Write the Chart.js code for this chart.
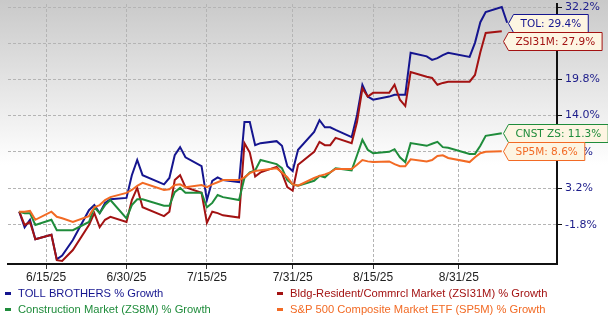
<!DOCTYPE html>
<html>
<head>
<meta charset="utf-8">
<script src="https://cdn.jsdelivr.net/npm/chart.js@4.4.1/dist/chart.umd.min.js"></script>
<style>
    html, body { margin: 0; padding: 0; background: #fff; }
    #wrap { width: 608px; height: 320px; background: linear-gradient(to bottom, #c9c9c9 0px, #ffffff 165px, #ffffff 320px); }
</style>
</head>
<body>
<div id="wrap"><canvas id="growthChart" width="608" height="320"></canvas></div>
<script>
// Trading days shown on the chart
const dates = [
    '2025-06-10','2025-06-11','2025-06-12','2025-06-13','2025-06-16','2025-06-17','2025-06-18','2025-06-20',
    '2025-06-23','2025-06-24','2025-06-25','2025-06-26','2025-06-27','2025-06-30',
    '2025-07-01','2025-07-02','2025-07-03','2025-07-07','2025-07-08','2025-07-09','2025-07-10','2025-07-11',
    '2025-07-14','2025-07-15','2025-07-16','2025-07-17','2025-07-18','2025-07-21','2025-07-22','2025-07-23',
    '2025-07-24','2025-07-25','2025-07-28','2025-07-29','2025-07-30','2025-07-31',
    '2025-08-01','2025-08-04','2025-08-05','2025-08-06','2025-08-07','2025-08-08','2025-08-11','2025-08-12',
    '2025-08-13','2025-08-14','2025-08-15','2025-08-18','2025-08-19','2025-08-20','2025-08-21','2025-08-22',
    '2025-08-25','2025-08-26','2025-08-27','2025-08-28','2025-08-29',
    '2025-09-02','2025-09-03','2025-09-04','2025-09-05','2025-09-08','2025-09-09'
];

// % growth per series
const tolGrowth = [
    0, -2.1, -1.1, -3.7, -3.1, -6.3, -5.8, -3.8, 0.2, 0.9, -0.2, 1.2, 1.7, 1.9,
    5.1, 7.3, 5.1, 3.8, 4.7, 8.0, 9.2, 7.7, 6.4, 1.6, 4.3, 4.8, 4.4, 4.1, 13.0, 13.0, 9.5, 9.8, 10.1, 9.4, 6.4, 5.7,
    8.8, 11.5, 13.3, 12.2, 12.2, 11.8, 10.7, 14.1, 18.9, 17.0, 16.5, 17.0, 17.3, 17.3, 17.3, 24.2, 23.6, 23.0, 23.3, 23.8, 24.2,
    23.5, 25.9, 29.5, 31.3, 32.2, 29.4
];
const zsi31mGrowth = [
    0, -1.8, -1.4, -3.7, -3.1, -6.4, -6.5, -5.1, -1.8, -0.2, -2.1, -1.1, -0.7, -1.4,
    1.6, 3.3, 0.6, -0.6, 0, 4.4, 5.1, 3.4, 2.6, -1.5, 0, -0.2, -0.5, -0.8, 9.8, 8.4, 4.9, 5.5, 6.3, 5.4, 3.4, 2.9,
    6.6, 8.5, 10.0, 9.5, 9.5, 10.6, 9.8, 13.0, 18.3, 17.0, 17.6, 17.6, 18.9, 16.5, 15.5, 21.0, 20.2, 20.0, 18.9, 19.2, 19.4,
    19.4, 20.5, 24.3, 27.6, 27.9
];
const zs8mGrowth = [
    0, -0.2, -0.2, -1.8, -1.1, -2.5, -2.5, -2.5, -1.4, 0.6, -0.2, 0.9, 1.6, -0.9,
    0.9, 1.7, 1.7, 0.8, 0.8, 2.7, 3.3, 2.6, 2.6, 0.6, 1.2, 2.3, 2.0, 1.6, 4.7, 5.5, 5.8, 7.3, 6.7, 6.1, 4.4, 3.8,
    3.6, 4.3, 5.0, 4.8, 5.5, 6.1, 5.8, 8.0, 10.3, 8.8, 8.3, 8.5, 8.9, 7.7, 7.0, 9.8, 9.4, 9.7, 10.0, 9.2, 9.1,
    8.2, 8.2, 9.4, 10.9, 11.3
];
const sp5mGrowth = [
    0, 0, 0.1, -1.1, 0, -0.7, -0.9, -1.4, -0.6, 0.6, 0.9, 1.6, 2.0, 2.6,
    3.0, 3.6, 4.0, 3.0, 3.1, 3.7, 3.8, 3.4, 3.7, 3.4, 3.8, 4.1, 4.4, 4.4, 4.8, 5.4, 5.7, 5.8, 6.1, 5.5, 4.8, 3.8,
    3.6, 4.7, 5.0, 5.2, 5.5, 6.0, 6.0, 6.6, 7.3, 7.1, 7.0, 7.1, 6.7, 6.4, 6.4, 7.4, 7.1, 7.3, 7.9, 8.0, 7.6,
    7.0, 7.7, 8.3, 8.5, 8.6
];

const seriesNames = [
    'TOLL BROTHERS % Growth',
    'Bldg-Resident/Commrcl Market (ZSI31M) % Growth',
    'Construction Market (ZS8M) % Growth',
    'S&P 500 Composite Market ETF (SP5M) % Growth'
];
const endTags = ['TOL', 'ZSI31M', 'CNST ZS', 'SP5M'];
const seriesColors = ['#15158f', '#a31212', '#1f8c3b', '#f26a24'];

// Axis ticks
const xTickDates = ['2025-06-15', '2025-06-30', '2025-07-15', '2025-07-31', '2025-08-15', '2025-08-31'];
const xTickLabels = ['6/15/25', '6/30/25', '7/15/25', '7/31/25', '8/15/25', '8/31/25'];
const yTickValues = [-1.8, 3.2, 8.5, 14.0, 19.8, 25.8, 32.2];

// day number counted from May 31st, so 6/15 -> 15
function dayOf(s) {
    const [y, m, d] = s.split('-').map(Number);
    return (Date.UTC(y, m - 1, d) - Date.UTC(2025, 5, 0)) / 864e5;
}

function toPoints(values) {
    return values.map((v, i) => ({ x: dayOf(dates[i]), y: 100 + v }));
}

const allGrowth = [tolGrowth, zsi31mGrowth, zs8mGrowth, sp5mGrowth];

const datasets = allGrowth.map((vals, i) => ({
    label: seriesNames[i],
    data: toPoints(vals),
    borderColor: seriesColors[i],
    backgroundColor: seriesColors[i],
    borderWidth: 2,
    pointRadius: 0,
    tension: 0,
    order: [3, 2, 1, 0][i]
}));

// End value tags with a pointer on the left
const endTagPlugin = {
    id: 'endTags',
    afterDraw(chart) {
        const ctx = chart.ctx;
        const xs = chart.scales.x, ys = chart.scales.y;
        const h = 18;
        const tags = allGrowth.map((vals, i) => {
            const last = vals.length - 1;
            return {
                i,
                x: xs.getPixelForValue(dayOf(dates[last])) + 1,
                y: ys.getPixelForValue(100 + vals[last]),
                text: endTags[i] + ': ' + vals[last].toFixed(1) + '%'
            };
        });
        tags.sort((a, b) => a.y - b.y);
        for (let k = 1; k < tags.length; k++) {
            if (tags[k].y < tags[k - 1].y + h) tags[k].y = tags[k - 1].y + h;
        }
        ctx.save();
        ctx.font = '10.5px "DejaVu Sans", sans-serif';
        ctx.textBaseline = 'middle';
        tags.forEach(t => {
            const w = ctx.measureText(t.text).width + 19;
            const x0 = Math.round(t.x) + 0.5, y0 = Math.round(t.y) + 0.5;
            ctx.beginPath();
            ctx.moveTo(x0, y0);
            ctx.lineTo(x0 + 5, y0 - h / 2);
            ctx.lineTo(x0 + w, y0 - h / 2);
            ctx.lineTo(x0 + w, y0 + h / 2);
            ctx.lineTo(x0 + 5, y0 + h / 2);
            ctx.closePath();
            ctx.fillStyle = '#fdf5e2';
            ctx.fill();
            ctx.strokeStyle = seriesColors[t.i];
            ctx.lineWidth = 1;
            ctx.stroke();
            ctx.fillStyle = seriesColors[t.i];
            ctx.fillText(t.text, x0 + 12, y0 + 1);
        });
        ctx.restore();
    }
};

// Two-column legend under the x axis
const legendPlugin = {
    id: 'bottomLegend',
    afterDraw(chart) {
        const ctx = chart.ctx;
        const spots = [[5, 293], [277, 293], [5, 309], [277, 309]];
        ctx.save();
        ctx.font = '11.2px "Liberation Sans", Arial, sans-serif';
        ctx.textBaseline = 'middle';
        seriesNames.forEach((name, i) => {
            const [x, y] = spots[i];
            ctx.fillStyle = seriesColors[i];
            ctx.fillRect(x, y - 1, 6, 3);
            ctx.fillText(name, x + 13, y + 1);
        });
        ctx.restore();
    }
};

new Chart(document.getElementById('growthChart'), {
    type: 'line',
    data: { datasets },
    plugins: [endTagPlugin, legendPlugin],
    options: {
        responsive: false,
        animation: false,
        layout: { padding: { left: 8, right: 0, top: 4, bottom: 0 } },
        plugins: {
            legend: { display: false },
            tooltip: { enabled: false }
        },
        scales: {
            x: {
                type: 'linear',
                min: 7.9,
                max: 110.3,
                afterBuildTicks: s => { s.ticks = xTickDates.map(d => ({ value: dayOf(d) })); },
                afterFit: s => { s.height = 56; s.paddingLeft = 0; s.paddingRight = 0; },
                ticks: {
                    autoSkip: false,
                    maxRotation: 0,
                    padding: 1,
                    color: '#222',
                    font: { family: '"Liberation Sans", Arial, sans-serif', size: 12 },
                    callback: (v, i) => xTickLabels[i]
                },
                grid: {
                    color: '#b4b4b4',
                    borderDash: [3, 2],
                    tickColor: '#333',
                    tickLength: 5,
                    tickBorderDash: []
                },
                border: { display: true, color: '#111', width: 2, dash: [3, 2] }
            },
            y: {
                type: 'logarithmic',
                position: 'right',
                min: 93.11,
                max: 132.75,
                afterBuildTicks: s => { s.ticks = yTickValues.map(v => ({ value: 100 + v })); },
                afterFit: s => { s.width = 51; s.paddingTop = 0; s.paddingBottom = 0; },
                ticks: {
                    autoSkip: false,
                    padding: 3,
                    color: '#1c1c8a',
                    font: { family: '"DejaVu Sans", sans-serif', size: 11 },
                    callback: v => (v - 100).toFixed(1) + '%'
                },
                grid: {
                    color: '#b4b4b4',
                    borderDash: [3, 2],
                    tickColor: '#111',
                    tickLength: 5,
                    tickBorderDash: []
                },
                border: { display: true, color: '#111', width: 2, dash: [3, 2] }
            }
        }
    }
});
</script>
</body>
</html>
